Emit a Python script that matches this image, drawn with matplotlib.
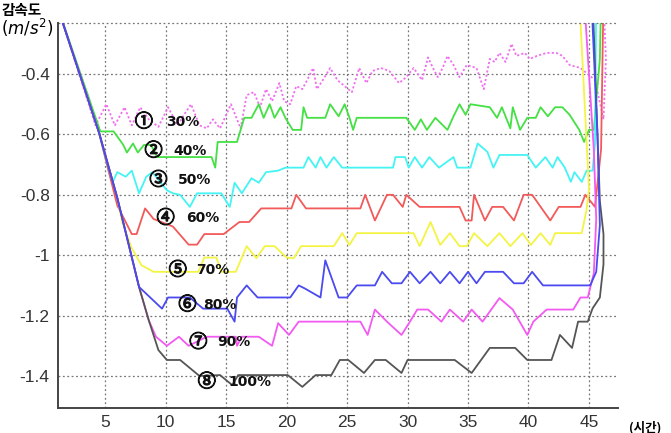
import numpy as np
import matplotlib
matplotlib.use("Agg")
import matplotlib.pyplot as plt
import matplotlib.patheffects as pe

plt.rcParams["font.family"] = ["Liberation Sans", "DejaVu Sans"]

# ── shared initial braking ramp (all curves start on it) ──────────────────────
ramp_x = [1.0, 4.5, 6.0, 7.8]
ramp_y = [-0.17, -0.595, -0.81, -1.105]

# ── series (x = time, y = deceleration) ──────────────────────────────────────
x30 = [4.2, 5.1, 5.8, 6.6, 7.2, 7.9, 8.6, 9.4, 10.2, 11.0,
       11.6, 12.1, 12.8, 13.4, 13.9, 14.5, 15.4, 16.2, 16.7, 17.3,
       17.8, 18.3, 18.8, 19.4, 19.8, 20.3, 20.8, 21.3, 21.7, 22.2,
       22.5, 23.0, 23.6, 24.2, 24.8, 25.4, 26.0, 26.6, 27.1, 27.8,
       28.5, 29.3, 29.9, 30.5, 31.2, 31.7, 32.1, 32.5, 32.9, 33.3,
       33.8, 34.3, 34.9, 35.7, 36.3, 36.8, 37.2, 37.6, 38.1, 38.6,
       39.0, 39.7, 40.1, 40.7, 41.5, 42.3, 42.8, 43.4, 44.3, 44.9,
       45.5, 46.2, 46.4, 46.2]
y30 = [-0.57, -0.50, -0.57, -0.51, -0.57, -0.51, -0.55, -0.575, -0.51, -0.57,
       -0.53, -0.50, -0.57, -0.58, -0.55, -0.58, -0.50, -0.58, -0.47, -0.46,
       -0.51, -0.45, -0.49, -0.43, -0.49, -0.50, -0.44, -0.45, -0.42, -0.38,
       -0.45, -0.42, -0.38, -0.42, -0.44, -0.46, -0.38, -0.43, -0.39, -0.38,
       -0.39, -0.43, -0.41, -0.38, -0.42, -0.345, -0.38, -0.41, -0.38, -0.34,
       -0.37, -0.41, -0.37, -0.38, -0.45, -0.35, -0.36, -0.33, -0.36, -0.30,
       -0.34, -0.33, -0.35, -0.34, -0.33, -0.33, -0.34, -0.37, -0.38, -0.40,
       -0.42, -0.55, -0.35, -0.15]

x40 = [4.6, 5.7, 6.5, 6.8, 7.3, 7.7, 8.2, 8.8, 9.3, 10.5,
       11.2, 13.8, 14.1, 14.3, 15.9, 16.5, 17.1, 17.7, 18.1, 18.6,
       19.0, 19.5, 19.9, 20.5, 21.2, 21.4, 21.7, 23.2, 23.6, 24.3,
       24.8, 25.2, 25.5, 25.8, 29.9, 30.6, 31.1, 31.6, 32.3, 33.3,
       33.8, 34.3, 34.8, 35.2, 36.8, 37.4, 37.8, 38.5, 38.7, 39.3,
       39.9, 40.6, 41.0, 41.6, 42.2, 42.8, 43.4, 44.2, 44.6, 45.0,
       45.4, 45.9, 46.0]
y40 = [-0.59, -0.59, -0.635, -0.66, -0.63, -0.66, -0.635, -0.635, -0.675, -0.675,
       -0.675, -0.675, -0.71, -0.625, -0.625, -0.545, -0.545, -0.50, -0.545, -0.50,
       -0.545, -0.51, -0.545, -0.585, -0.585, -0.51, -0.545, -0.545, -0.50, -0.54,
       -0.50, -0.545, -0.585, -0.545, -0.545, -0.585, -0.55, -0.585, -0.545, -0.585,
       -0.54, -0.50, -0.535, -0.50, -0.51, -0.545, -0.51, -0.58, -0.51, -0.585,
       -0.545, -0.545, -0.51, -0.54, -0.51, -0.51, -0.535, -0.585, -0.625, -0.585,
       -0.585, -0.35, -0.15]

x50 = [5.3, 5.6, 6.0, 6.7, 7.2, 7.8, 8.4, 8.9, 10.1, 10.6,
       11.2, 12.0, 12.6, 14.6, 15.3, 15.7, 16.3, 17.1, 17.7, 18.3,
       19.3, 19.9, 21.4, 21.8, 22.4, 22.8, 23.3, 23.9, 24.6, 28.8,
       29.0, 29.8, 30.1, 30.6, 31.2, 31.8, 32.6, 33.8, 34.1, 35.2,
       35.8, 36.6, 37.1, 37.6, 39.9, 40.6, 41.4, 42.0, 42.4, 43.0,
       43.5, 43.8, 44.4, 44.8, 45.3, 45.5, 45.6]
y50 = [-0.725, -0.76, -0.725, -0.74, -0.72, -0.795, -0.74, -0.725, -0.785, -0.795,
       -0.80, -0.84, -0.795, -0.795, -0.84, -0.76, -0.795, -0.745, -0.76, -0.725,
       -0.72, -0.71, -0.71, -0.675, -0.71, -0.675, -0.71, -0.675, -0.71, -0.71,
       -0.675, -0.675, -0.71, -0.675, -0.71, -0.675, -0.71, -0.675, -0.71, -0.71,
       -0.63, -0.658, -0.71, -0.668, -0.668, -0.71, -0.675, -0.71, -0.675, -0.71,
       -0.757, -0.725, -0.757, -0.72, -0.72, -0.63, -0.15]

x60 = [6.0, 7.2, 7.6, 8.3, 9.0, 10.6, 11.9, 12.6, 13.2, 14.8,
       16.1, 16.9, 17.9, 20.4, 20.8, 21.6, 26.1, 26.5, 27.3, 28.3,
       28.8, 29.6, 29.9, 31.0, 34.3, 34.8, 35.3, 35.5, 36.4, 37.0,
       37.9, 38.8, 39.6, 40.3, 41.8, 42.5, 44.3, 44.7, 45.5, 46.0,
       46.2]
y60 = [-0.835, -0.93, -0.93, -0.845, -0.88, -0.905, -0.965, -0.965, -0.93, -0.93,
       -0.89, -0.89, -0.845, -0.845, -0.80, -0.845, -0.845, -0.80, -0.885, -0.80,
       -0.80, -0.84, -0.80, -0.84, -0.84, -0.885, -0.885, -0.80, -0.885, -0.84,
       -0.84, -0.885, -0.80, -0.80, -0.885, -0.84, -0.84, -0.80, -0.84, -0.65,
       -0.15]

x70 = [6.4, 7.2, 8.0, 9.0, 12.7, 13.2, 14.2, 14.6, 15.8, 16.7,
       17.5, 18.2, 19.0, 20.0, 20.6, 21.2, 23.9, 24.6, 25.2, 25.8,
       30.5, 31.0, 31.9, 32.7, 33.5, 34.3, 34.9, 35.5, 36.6, 37.6,
       38.5, 39.5, 40.2, 41.0, 41.8, 42.2, 44.4, 44.8, 45.0, 44.2]
y70 = [-0.89, -0.977, -1.033, -1.055, -1.055, -1.008, -1.008, -1.055, -1.055, -0.97,
       -1.01, -0.97, -0.97, -1.008, -1.01, -0.97, -0.97, -0.927, -0.966, -0.927,
       -0.927, -0.97, -0.89, -0.966, -0.927, -0.97, -0.97, -0.927, -0.97, -0.927,
       -0.97, -0.927, -0.966, -0.927, -0.966, -0.927, -0.927, -0.85, -0.78, -0.15]

x80 = [9.7, 10.2, 12.0, 13.1, 15.1, 15.7, 15.9, 16.7, 17.6, 20.3,
       21.0, 21.5, 22.8, 23.2, 24.3, 25.0, 25.8, 27.3, 27.9, 28.7,
       29.5, 30.2, 31.0, 31.9, 32.7, 33.5, 34.3, 35.0, 35.7, 36.4,
       37.9, 38.8, 39.6, 40.3, 41.2, 45.1, 45.6, 45.9, 45.7, 45.2]
y80 = [-1.177, -1.14, -1.14, -1.177, -1.177, -1.22, -1.14, -1.10, -1.14, -1.14,
       -1.10, -1.11, -1.14, -1.017, -1.14, -1.14, -1.10, -1.10, -1.055, -1.093,
       -1.093, -1.055, -1.093, -1.055, -1.093, -1.055, -1.093, -1.055, -1.093, -1.055,
       -1.055, -1.093, -1.093, -1.055, -1.10, -1.10, -1.055, -0.9, -0.6, -0.15]

x90 = [8.6, 9.2, 10.1, 11.1, 11.9, 13.4, 15.8, 15.9, 16.3, 17.7,
       18.8, 19.3, 20.2, 21.0, 26.1, 26.7, 27.3, 28.3, 29.5, 30.2,
       30.8, 31.7, 32.8, 33.5, 34.6, 35.3, 36.2, 37.6, 38.7, 39.9,
       40.4, 41.5, 43.7, 44.3, 44.9, 45.4, 45.6, 45.4, 44.6]
y90 = [-1.215, -1.27, -1.30, -1.27, -1.30, -1.27, -1.27, -1.30, -1.27, -1.27,
       -1.30, -1.225, -1.264, -1.22, -1.22, -1.264, -1.18, -1.22, -1.264, -1.22,
       -1.18, -1.18, -1.22, -1.18, -1.22, -1.18, -1.22, -1.142, -1.18, -1.264,
       -1.22, -1.18, -1.18, -1.14, -1.14, -1.06, -0.88, -0.65, -0.15]

x100 = [8.6, 9.4, 10.1, 11.2, 12.8, 14.5, 15.5, 16.0, 20.1, 21.3,
        22.4, 23.7, 24.4, 25.1, 26.4, 27.3, 28.2, 29.5, 30.0, 33.9,
        35.3, 36.8, 38.9, 39.9, 41.9, 42.6, 43.6, 44.1, 44.9, 45.3,
        45.9, 46.2, 46.2, 45.9, 45.3]
y100 = [-1.215, -1.314, -1.347, -1.347, -1.40, -1.397, -1.43, -1.397, -1.397, -1.436,
        -1.397, -1.397, -1.347, -1.347, -1.39, -1.347, -1.347, -1.39, -1.347, -1.347,
        -1.39, -1.307, -1.307, -1.347, -1.347, -1.264, -1.307, -1.22, -1.22, -1.176,
        -1.14, -1.03, -0.93, -0.82, -0.15]

# ── in-plot labels ────────────────────────────────────────────────────────────
label_num = ["①", "②", "③", "④", "⑤", "⑥", "⑦", "⑧"]
label_pct = ["30%", "40%", "50%", "60%", "70%", "80%", "90%", "100%"]
label_cx = [8.2, 9.0, 9.4, 10.0, 11.0, 11.8, 12.7, 13.4]
label_tx = [11.4, 12.0, 12.4, 13.1, 13.9, 14.5, 15.6, 17.0]
label_y = [-0.559, -0.655, -0.752, -0.878, -1.050, -1.165, -1.289, -1.420]

yticks = [-1.4, -1.2, -1.0, -0.8, -0.6, -0.4]
ytick_labels = ["-1.4", "-1.2", "-1", "-0.8", "-0.6", "-0.4"]
xticks = [5, 10, 15, 20, 25, 30, 35, 40, 45]

series = [
    (x30, y30, "#f070f0", (0, (1.2, 1.2)), 2),
    (x40, y40, "#44e044", "-", 2),
    (x50, y50, "#44f4f4", "-", 2),
    (x60, y60, "#f25a5a", "-", 2),
    (x70, y70, "#f4f444", "-", 2),
    (x90, y90, "#f25af2", "-", 2),
    (x100, y100, "#555555", "-", 3),
    (x80, y80, "#4a4af0", "-", 4),
]


def with_ramp(xs, ys):
    """Prefix a curve with the part of the common ramp above its first point."""
    px = [rx for rx, ry in zip(ramp_x, ramp_y) if rx < xs[0] and ry > ys[0]]
    py = [ry for rx, ry in zip(ramp_x, ramp_y) if rx < xs[0] and ry > ys[0]]
    return px + list(xs), py + list(ys)


fig = plt.figure(figsize=(6.71, 4.33), dpi=100)
ax = fig.add_axes([58 / 671, 1 - 408 / 433, (618 - 58) / 671, (408 - 23) / 433])

for xs, ys, col, ls, z in series:
    fx, fy = with_ramp(xs, ys)
    ax.plot(fx, fy, color=col, linestyle=ls, linewidth=1.3, zorder=z)

bold_edge = [pe.withStroke(linewidth=0.9, foreground="#111111")]
for num, pct, cx, tx, ly in zip(label_num, label_pct, label_cx, label_tx, label_y):
    ax.text(cx, ly, num, ha="center", va="center", fontsize=13, color="#111111",
            family=["Noto Sans CJK KR", "DejaVu Sans"], zorder=6, path_effects=bold_edge)
    ax.text(tx, ly, pct, ha="center", va="center", fontsize=10, fontweight="bold",
            color="#111111", family=["DejaVu Sans"], zorder=6)

ax.set_xlim(1.1, 47.4)
ax.set_ylim(-1.506, -0.231)
ax.set_xticks(xticks)
ax.set_yticks(yticks)
ax.set_yticklabels(ytick_labels)
ax.tick_params(length=0, labelsize=12.5, colors="#333333", pad=6)
ax.tick_params(axis="x", pad=5)

ax.grid(True, color="#777777", linestyle=(0, (1.5, 2)), linewidth=0.9)
ax.axhline(-0.231, color="#777777", linestyle=(0, (1.5, 2)), linewidth=0.9, clip_on=False)
for side in ["top", "right"]:
    ax.spines[side].set_visible(False)
for side in ["left", "bottom"]:
    ax.spines[side].set_color("#444444")
    ax.spines[side].set_linewidth(1.4)

fig.text(22 / 671, 1 - 10 / 433, "감속도", ha="center", va="center", fontsize=10.5,
         fontweight="bold", family=["Noto Sans CJK KR", "DejaVu Sans"])
fig.text(1 / 671, 1 - 28 / 433, r"$(m/s^2)$", ha="left", va="center", fontsize=12)
fig.text(645 / 671, 1 - 421 / 433, "(시간)", ha="center", va="top", fontsize=9,
         fontweight="bold", family=["Noto Sans CJK KR", "DejaVu Sans"])

fig.savefig("out.png", dpi=100)
plt.close(fig)
